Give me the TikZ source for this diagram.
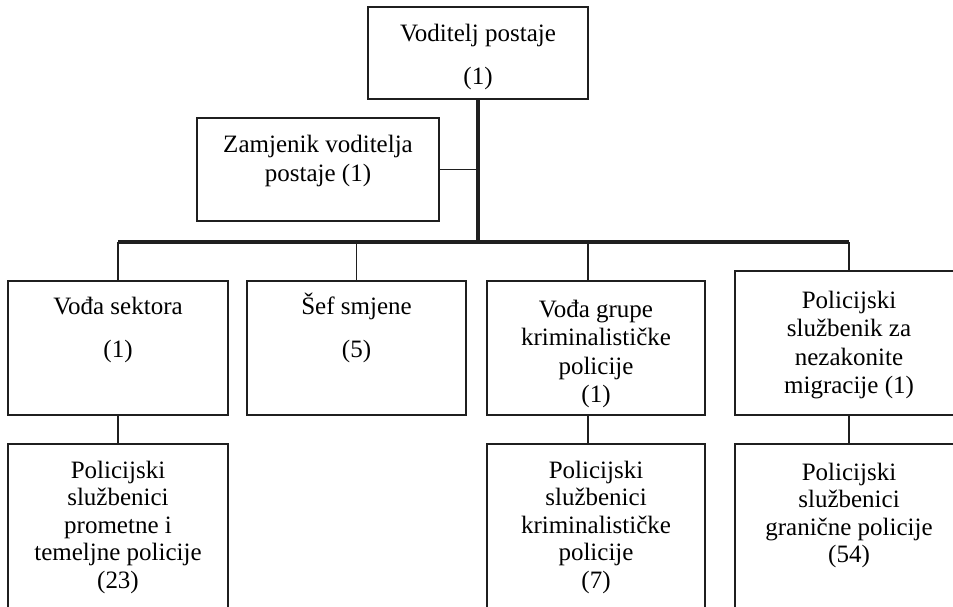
\documentclass[tikz,border=0pt]{standalone}
\usepackage{fontspec}
\setmainfont{Liberation Serif}
\newcommand{\tstrut}{\rule{0pt}{24pt}}
\begin{document}
\begin{tikzpicture}[x=1pt,y=-1pt,
  box/.style={draw=black!88, line width=1.5pt, inner sep=0pt, rectangle},
  txt/.style={align=center, inner sep=0pt, anchor=north, text=black,
              font=\fontsize{25}{28.5}\selectfont},
  thinline/.style={draw=black!88, line width=1.5pt},
  thickline/.style={draw=black!88, line width=3.4pt}]
\useasboundingbox (0,0) rectangle (953,607);
\clip (0,0) rectangle (953,607);

% boxes
\node[box, minimum width=220pt, minimum height=92pt]  (top) at (478,53) {};
\node[box, minimum width=242pt, minimum height=103pt] (zam) at (318,169.5) {};
\node[box, minimum width=220pt, minimum height=134pt] (A) at (118,348) {};
\node[box, minimum width=219pt, minimum height=134pt] (B) at (356.5,348) {};
\node[box, minimum width=218pt, minimum height=134pt] (C) at (596,348) {};
\node[box, minimum width=228pt, minimum height=144pt] (D) at (849,343) {};
\node[box, minimum width=220pt, minimum height=190pt] (E) at (118,539) {};
\node[box, minimum width=218pt, minimum height=190pt] (F) at (596,539) {};
\node[box, minimum width=228pt, minimum height=190pt] (G) at (849,539) {};

% texts
\node[txt] (top-t) at (478,17) {\tstrut Voditelj postaje\\[15pt](1)};
\node[txt] (zam-t) at (318,128) {\tstrut Zamjenik voditelja\\[0.5pt]postaje (1)};
\node[txt] (A-t) at (118,290) {\tstrut Vođa sektora\\[14.5pt](1)};
\node[txt] (B-t) at (356.5,290) {\tstrut Šef smjene\\[14.5pt](5)};
\node[txt] (C-t) at (596,293) {\tstrut Vođa grupe\\kriminalističke\\policije\\(1)};
\node[txt] (D-t) at (849,284) {\tstrut Policijski\\službenik za\\nezakonite\\migracije (1)};
\node[txt] (E-t) at (118,454) {\tstrut Policijski\\[-1pt]službenici\\[-1pt]prometne i\\[-1pt]temeljne policije\\[-1pt](23)};
\node[txt] (F-t) at (596,454) {\tstrut Policijski\\[-1pt]službenici\\[-1pt]kriminalističke\\[-1pt]policije\\[-1pt](7)};
\node[txt] (G-t) at (849,456) {\tstrut Policijski\\[-1pt]službenici\\[-1pt]granične policije\\[-1pt](54)};

% bus coordinates
\coordinate (busL) at (118,242);
\coordinate (busR) at (849,242);
\coordinate (cdrop) at (588,242);
\coordinate (busM) at (top.south |- busL);

% connectors
\draw[thickline] (top.south) -- (busM);
\draw[thickline] (busL) -- (busR);
\draw[thinline] (zam.east) -- (zam.east -| top.south);
\draw[thinline] (busL) -- (A.north);
\draw[thinline] (B.north |- busL) -- (B.north);
\draw[thinline] (cdrop) -- (cdrop |- C.north);
\draw[thinline] (busR) -- (D.north);
\draw[thinline] (A.south) -- (E.north);
\draw[thinline] (cdrop |- C.south) -- (cdrop |- F.north);
\draw[thinline] (D.south) -- (G.north);
\end{tikzpicture}
\end{document}
